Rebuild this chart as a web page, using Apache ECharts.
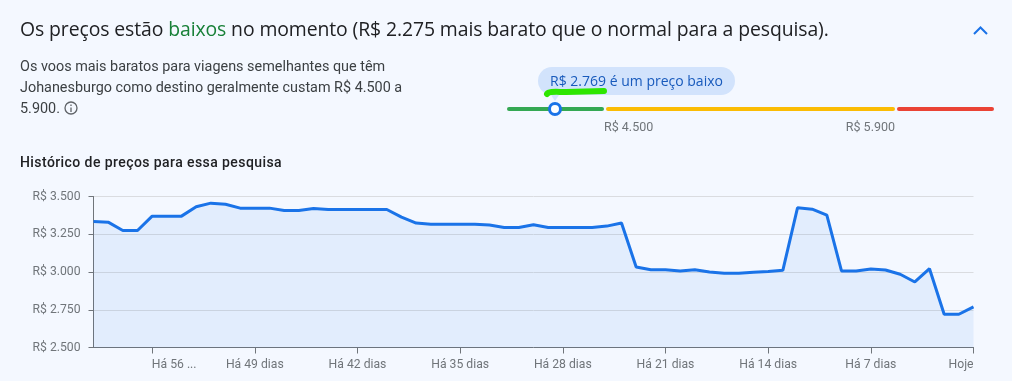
<!DOCTYPE html>
<html>
<head>
<meta charset="utf-8">
<script src="https://cdn.jsdelivr.net/npm/echarts@6/dist/echarts.min.js"></script>
<style>
  html, body { margin: 0; padding: 0; background: #f4f8ff; }
  #page { position: relative; width: 1012px; height: 381px; overflow: hidden; font-family: Roboto, sans-serif; color: #3c4043; }
  #chart { position: absolute; left: 0; top: 0; width: 1012px; height: 381px; }
  .txt { position: absolute; white-space: nowrap; }
  #headline { left: 20px; top: 15px; font-family: "Open Sans", sans-serif; font-size: 19.400px; line-height: 28px; color: #202124; letter-spacing: -0.1px; }
  #headline b { font-weight: 400; color: #188038; }
  #intro { left: 20px; top: 56px; font-size: 14.400px; line-height: 21px; }
  #historyTitle { left: 20px; top: 152px; font-size: 14px; line-height: 20px; font-weight: 500; color: #202124; letter-spacing: 0.42px; }
  #pill { left: 538px; top: 67px; width: 197px; height: 28px; line-height: 28px; border-radius: 14px; background: #d2e3fc; color: #185abc; font-family: "Open Sans", sans-serif; font-size: 14px; text-align: center; }
  #overlay { position: absolute; left: 0; top: 0; }
</style>
</head>
<body>
<div id="page">
  <div id="chart"></div>
  <div class="txt" id="headline">Os preços estão <b>baixos</b> no momento (R$ 2.275 mais barato que o normal para a pesquisa).</div>
  <div class="txt" id="intro">Os voos mais baratos para viagens semelhantes que têm<br>Johanesburgo como destino geralmente custam R$ 4.500 a<br>5.900.</div>
  <div class="txt" id="historyTitle">Histórico de preços para essa pesquisa</div>
  <div class="txt" id="pill">R$ 2.769 é um preço baixo</div>
  <svg id="overlay" width="1012" height="381">
    <path d="M551 95 L555 101 L559 95 Z" fill="#d2e3fc"/>
    <path d="M547 94 C549 91 556 92 566 92 L604 91" fill="none" stroke="#2ee600" stroke-width="6" stroke-linecap="round"/>
    <circle cx="71" cy="108" r="6" fill="none" stroke="#5f6368" stroke-width="1.300"/>
    <path d="M71 107.500 V112 M71 104.500 V106" stroke="#5f6368" stroke-width="1.300"/>
    <path d="M974 34 L980.500 27.500 L987 34" fill="none" stroke="#1a73e8" stroke-width="2"/>
  </svg>
</div>
<script>
  // days before today, one point per day
  var daysAgo = [60, 59, 58, 57, 56, 55, 54, 53, 52, 51, 50, 49, 48, 47, 46, 45, 44, 43, 42, 41, 40,
    39, 38, 37, 36, 35, 34, 33, 32, 31, 30, 29, 28, 27, 26, 25, 24, 23, 22, 21, 20,
    19, 18, 17, 16, 15, 14, 13, 12, 11, 10, 9, 8, 7, 6, 5, 4, 3, 2, 1, 0];
  var prices = [3335, 3330, 3275, 3275, 3370, 3370, 3370, 3432, 3456, 3449, 3423, 3423, 3423, 3407, 3407, 3420, 3414, 3414, 3414, 3414, 3414,
    3363, 3324, 3317, 3317, 3317, 3317, 3311, 3295, 3295, 3313, 3295, 3295, 3295, 3295, 3304, 3324, 3033, 3015, 3015, 3007,
    3015, 3000, 2991, 2991, 2998, 3004, 3011, 3425, 3416, 3377, 3007, 3007, 3020, 3013, 2985, 2934, 3022, 2720, 2720, 2769];
  var tickDays = [56, 49, 42, 35, 28, 21, 14, 7, 0];
  var tickLabels = ["Há 56 ...", "Há 49 dias", "Há 42 dias", "Há 35 dias", "Há 28 dias", "Há 21 dias", "Há 14 dias", "Há 7 dias", "Hoje"];

  // price range bar
  var lowBand = [1075, 4500];
  var typicalBand = [4500, 5900];
  var highBand = [5900, 6400];
  var currentPrice = 2769;

  var GREY = "#70757a";
  var money = function(v) {
    return "R$ " + String(v).replace(/(\d)(\d{3})$/, "$1.$2");
  };
  var isTick = function(index) {
    return tickDays.indexOf(daysAgo[index]) >= 0;
  };
  var bandSeries = function(band, axisIndex, color) {
    return {
      type: "line",
      xAxisIndex: axisIndex,
      yAxisIndex: axisIndex,
      data: [[band[0], 0], [band[1], 0]],
      symbol: "none",
      clip: false,
      silent: true,
      lineStyle: { color: color, width: 4, cap: "round" }
    };
  };
  var bandAxis = function(band, gridIndex) {
    return { type: "value", gridIndex: gridIndex, min: band[0], max: band[1], show: false };
  };
  var flatAxis = function(gridIndex) {
    return { type: "value", gridIndex: gridIndex, min: -1, max: 1, show: false };
  };

  var myChart = echarts.init(document.getElementById("chart"), null, { renderer: "canvas" });
  myChart.setOption({
    animation: false,
    grid: [
      { left: 93.500, right: 38.500, top: 196.500, height: 151 },
      { left: 509, width: 93, top: 108, height: 2 },
      { left: 608, width: 285, top: 108, height: 2 },
      { left: 899, width: 93, top: 108, height: 2 },
      { left: 604, width: 291, top: 108, height: 2 }
    ],
    xAxis: [
      {
        type: "category",
        data: daysAgo,
        boundaryGap: false,
        axisLine: { lineStyle: { color: GREY, width: 1 } },
        axisTick: {
          length: 6,
          lineStyle: { color: GREY },
          interval: function(index) { return isTick(index); }
        },
        axisLabel: {
          interval: function(index) { return isTick(index); },
          color: GREY,
          fontFamily: "Roboto",
          fontSize: 12.200,
          margin: 11,
          hideOverlap: false,
          formatter: function(value) {
            var label = tickLabels[tickDays.indexOf(Number(value))];
            if (Number(value) === 56) return "{first|" + label + "}";
            if (Number(value) === 0) return "{last|" + label + "}";
            return label;
          },
          rich: {
            first: { color: GREY, fontFamily: "Roboto", fontSize: 12.200, padding: [0, 0, 0, 44] },
            last: { color: GREY, fontFamily: "Roboto", fontSize: 12.200, padding: [0, 25, 0, 0] }
          }
        }
      },
      bandAxis(lowBand, 1),
      bandAxis(typicalBand, 2),
      bandAxis(highBand, 3),
      {
        type: "value",
        gridIndex: 4,
        min: typicalBand[0],
        max: typicalBand[1],
        position: "bottom",
        axisLine: { show: false },
        axisTick: { show: false },
        splitLine: { show: false },
        axisLabel: {
          customValues: typicalBand,
          alignMinLabel: "left",
          alignMaxLabel: "right",
          color: GREY,
          fontFamily: "Roboto",
          fontSize: 12.500,
          margin: 11,
          formatter: money
        }
      }
    ],
    yAxis: [
      {
        type: "value",
        min: 2500,
        max: 3500,
        interval: 250,
        axisLine: { show: true, lineStyle: { color: GREY, width: 1 } },
        axisTick: { show: true, length: 5, lineStyle: { color: GREY } },
        splitLine: { lineStyle: { color: "#dadce0", width: 1 } },
        axisLabel: { color: GREY, fontFamily: "Roboto", fontSize: 12.200, margin: 13, padding: [0, 0, 2, 0], formatter: money }
      },
      flatAxis(1),
      flatAxis(2),
      flatAxis(3),
      flatAxis(4)
    ],
    series: [
      {
        type: "line",
        data: prices,
        symbol: "none",
        silent: true,
        lineStyle: { color: "#1a73e8", width: 3 },
        areaStyle: { color: "#1a73e8", opacity: 0.08 }
      },
      bandSeries(lowBand, 1, "#34a853"),
      bandSeries(typicalBand, 2, "#fbbc04"),
      bandSeries(highBand, 3, "#ea4335"),
      {
        type: "scatter",
        xAxisIndex: 1,
        yAxisIndex: 1,
        data: [[currentPrice, 0]],
        symbol: "circle",
        symbolSize: 11,
        clip: false,
        silent: true,
        z: 5,
        itemStyle: { color: "#ffffff", borderColor: "#1a73e8", borderWidth: 3, opacity: 1 }
      }
    ]
  });
</script>
</body>
</html>
